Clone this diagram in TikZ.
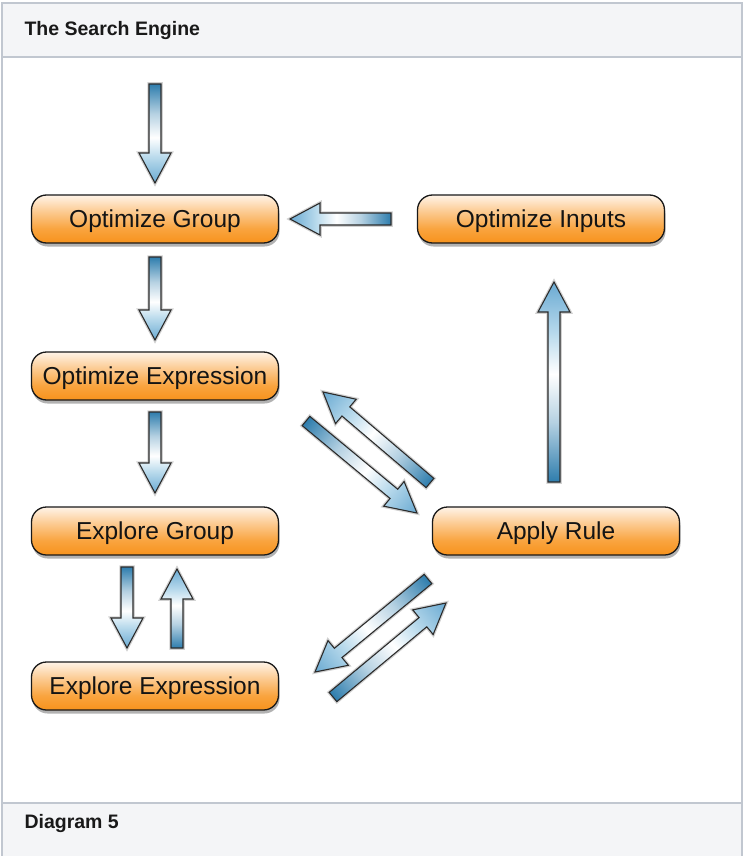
\documentclass[tikz,border=0pt]{standalone}
\usepackage{fontspec}
\setmainfont{Liberation Sans}
\usetikzlibrary{shadows}
\definecolor{frameline}{HTML}{C1C7D0}
\definecolor{headbg}{HTML}{F4F5F7}
\definecolor{boxtop}{HTML}{FFF4E8}
\definecolor{boxmid}{HTML}{FCCB92}
\definecolor{boxlow}{HTML}{F9A43F}
\definecolor{boxbot}{HTML}{F7921C}
\definecolor{tailblue}{HTML}{2E7DAD}
\definecolor{headblue}{HTML}{6AAAD2}
\definecolor{lightblue}{HTML}{B9DAEC}
\definecolor{outl}{HTML}{2B2B2B}
\pgfdeclarehorizontalshading{arrowshade}{100bp}{color(0bp)=(tailblue); color(25bp)=(tailblue); color(40bp)=(tailblue!35!white); color(52bp)=(white); color(62bp)=(lightblue); color(75bp)=(headblue); color(100bp)=(headblue)}
\pgfdeclareverticalshading{boxshade}{100bp}{color(0bp)=(boxbot); color(25bp)=(boxbot); color(40bp)=(boxlow); color(58bp)=(boxmid); color(75bp)=(boxtop); color(100bp)=(boxtop)}
\tikzset{
  procbox/.style={rounded corners=15pt, minimum width=247pt, minimum height=48pt,
    draw=black!90, line width=1.3pt, shade, shading=boxshade, inner sep=0pt,
    font=\fontsize{24.5}{28}\selectfont, text=black!92, text height=17.5pt, text depth=0pt,
    drop shadow={shadow xshift=1pt, shadow yshift=-3.5pt, opacity=.3, fill=black}},
  arrowbody/.style={shade, shading=arrowshade, draw=outl, line width=1.1pt, line join=miter,
    preaction={draw=black, opacity=.18, line width=3.5pt}},
  captxt/.style={anchor=west, font=\bfseries\fontsize{19.5}{22}\selectfont, text=black!90}
}
\newcommand\fatarrow[2]{%
  \pgfpointdiff{\pgfpointanchor{#1}{center}}{\pgfpointanchor{#2}{center}}%
  \pgfgetlastxy{\fdx}{\fdy}%
  \pgfmathsetmacro\fang{atan2(\fdy,\fdx)}%
  \pgfmathsetmacro\flen{veclen(\fdx,\fdy)}%
  \pgfmathsetmacro\fbase{\flen-30}%
  \begin{scope}[transform canvas={shift={(#1)},rotate=\fang}]
    \path[arrowbody] (0pt,-6pt) -- (\fbase pt,-6pt) -- (\fbase pt,-16pt) -- (\flen pt,0pt)
      -- (\fbase pt,16pt) -- (\fbase pt,6pt) -- (0pt,6pt) -- cycle;
  \end{scope}}
\begin{document}
\begin{tikzpicture}[x=1pt,y=-1pt]
\useasboundingbox (0,0) rectangle (744,856);
% frame
\fill[headbg] (2,3) rectangle (742,57);
\fill[headbg] (2,803) rectangle (742,856);
\draw[frameline, line width=2pt] (2,856) -- (2,3) -- (742,3) -- (742,856);
\draw[frameline, line width=2pt] (2,57) -- (742,57);
\draw[frameline, line width=2pt] (2,803) -- (742,803);
\node[captxt] (title) at (21,31) {The Search Engine};
\node[captxt] (caption) at (21,823) {Diagram 5};
% nodes
\node[procbox] (OG) at (155,219) {Optimize Group};
\node[procbox] (OI) at (541,219) {Optimize Inputs};
\node[procbox] (OE) at (155,376) {Optimize Expression};
\node[procbox] (EG) at (155,531) {Explore Group};
\node[procbox] (EE) at (155,686) {Explore Expression};
\node[procbox] (AR) at (556,531) {Apply Rule};
% arrow ends
\coordinate (a1s) at (155,84);  \coordinate (a1e) at (155,183);
\coordinate (a2s) at (391,219); \coordinate (a2e) at (290,219);
\coordinate (a3s) at (155,257); \coordinate (a3e) at (155,340);
\coordinate (a4s) at (155,412); \coordinate (a4e) at (155,493);
\coordinate (a5s) at (127,567); \coordinate (a5e) at (127,648);
\coordinate (a6s) at (177,648); \coordinate (a6e) at (177,569);
\coordinate (a7s) at (554,482); \coordinate (a7e) at (554,282);
\coordinate (a8s) at (306,421); \coordinate (a8e) at (417,513);
\coordinate (a9s) at (430,483); \coordinate (a9e) at (323,392);
\coordinate (a10s) at (428,579); \coordinate (a10e) at (315,672);
\coordinate (a11s) at (333,697); \coordinate (a11e) at (446,603);
\fatarrow{a1s}{a1e}
\fatarrow{a2s}{a2e}
\fatarrow{a3s}{a3e}
\fatarrow{a4s}{a4e}
\fatarrow{a5s}{a5e}
\fatarrow{a6s}{a6e}
\fatarrow{a7s}{a7e}
\fatarrow{a8s}{a8e}
\fatarrow{a9s}{a9e}
\fatarrow{a10s}{a10e}
\fatarrow{a11s}{a11e}
\end{tikzpicture}
\end{document}
